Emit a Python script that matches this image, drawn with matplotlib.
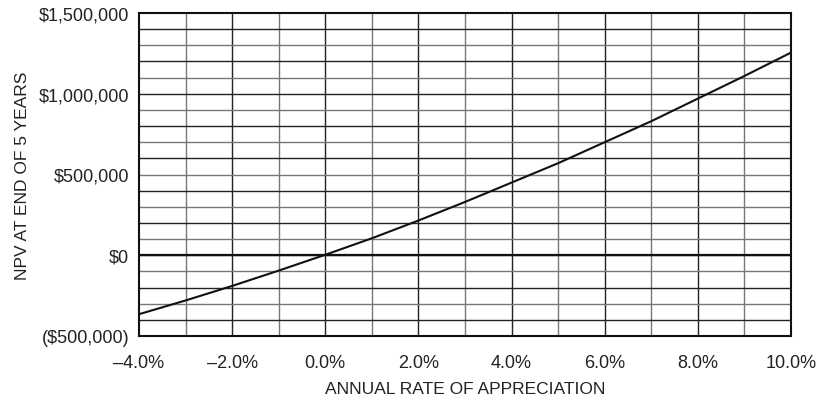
import numpy as np
import matplotlib.pyplot as plt
from matplotlib.ticker import FuncFormatter, MultipleLocator

# appreciation rate (%) vs NPV at end of 5 years
rates = [-4, -3, -2, -1, 0, 1, 2, 3, 4, 5, 6, 7, 8, 9, 10]
npv = [-365000, -280000, -190000, -95000, 3000, 105000, 215000, 330000,
       450000, 570000, 700000, 830000, 970000, 1110000, 1255000]

plt.rcParams["font.family"] = ["Liberation Sans", "DejaVu Sans"]

fig = plt.figure(figsize=(8.19, 4.02), dpi=100)
ax = fig.add_axes([139 / 819, 1 - 337 / 402, 652 / 819, 323 / 402])

ax.set_xlim(-4, 10)
ax.set_ylim(-500000, 1500000)

# grid: every 1% and every $100,000
for x in np.arange(-3, 10):
    ax.axvline(x, color="#222222" if x % 2 == 0 else "#777777", lw=1.0, zorder=1)
for y in np.arange(-400000, 1500000, 100000):
    ax.axhline(y, color="#222222" if y % 200000 == 0 else "#777777", lw=1.0, zorder=1)
ax.axhline(0, color="#111111", lw=1.6, zorder=2)

ax.plot(rates, npv, color="#111111", lw=1.5, zorder=3)

ax.xaxis.set_major_locator(MultipleLocator(2))
ax.yaxis.set_major_locator(MultipleLocator(500000))


def fmt_x(v, pos):
    s = "%.1f%%" % abs(v)
    return ("\u2013" + s) if v < 0 else s


def fmt_y(v, pos):
    if v < 0:
        return "(${:,.0f})".format(-v)
    return "${:,.0f}".format(v)


ax.xaxis.set_major_formatter(FuncFormatter(fmt_x))
ax.yaxis.set_major_formatter(FuncFormatter(fmt_y))
ax.tick_params(length=0, labelsize=13, colors="#222222")
ax.tick_params(axis="x", pad=13)
ax.tick_params(axis="y", pad=7)

for sp in ax.spines.values():
    sp.set_color("#111111")
    sp.set_linewidth(1.5)

ax.set_xlabel("ANNUAL RATE OF APPRECIATION", fontsize=12.5, color="#222222", labelpad=7)
ax.set_ylabel("NPV AT END OF 5 YEARS", fontsize=12.5, color="#222222", labelpad=6)

plt.savefig("out.png", dpi=100)
